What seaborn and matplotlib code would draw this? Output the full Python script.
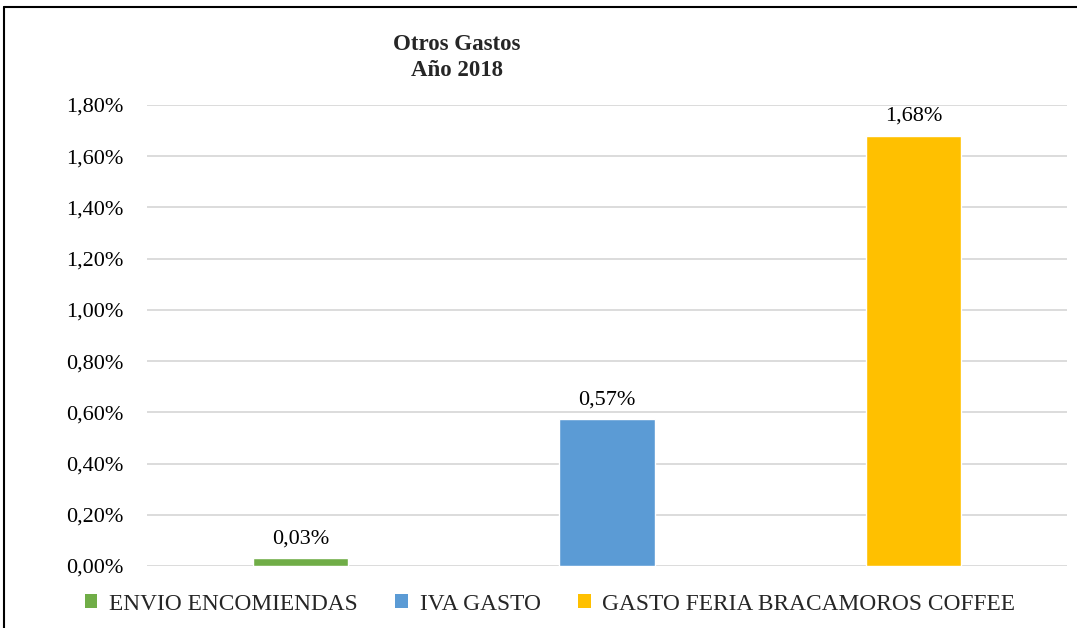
import matplotlib
matplotlib.use("Agg")
import matplotlib.pyplot as plt
import seaborn as sns
import pandas as pd
from matplotlib.patches import Patch
from matplotlib.lines import Line2D

categories = ["ENVIO ENCOMIENDAS", "IVA GASTO", "GASTO FERIA BRACAMOROS COFFEE"]
values = [0.0003, 0.00574, 0.0168]
colors = ["#70ad47", "#5b9bd5", "#ffc000"]
yticks = [0.0, 0.002, 0.004, 0.006, 0.008, 0.010, 0.012, 0.014, 0.016, 0.018]
title_lines = ["Otros Gastos", "Año 2018"]

sns.set_theme(style="white")
plt.rcParams["font.family"] = ["Liberation Serif", "DejaVu Serif"]

df = pd.DataFrame({"cat": categories, "val": values})

W, H = 1077, 628
fig = plt.figure(figsize=(W / 100, H / 100), dpi=100)
ax = fig.add_axes([147 / W, 1 - 566 / H, (1067 - 147) / W, (566 - 105) / H])

sns.barplot(data=df, x="cat", y="val", hue="cat", palette=colors, width=0.31,
            legend=False, ax=ax, saturation=1)

def pct(v):
    return f"{v*100:.2f}%".replace(".", ",")

ax.set_ylim(0, 0.018)
ax.set_yticks(yticks)
ax.set_yticklabels([pct(v) for v in yticks], fontsize=16, color="#000000")
ax.set_xticks([])
ax.set_xlabel("")
ax.set_ylabel("")
ax.grid(axis="y", color="#d9d9d9", linewidth=1.3)
ax.set_axisbelow(True)
for s in ax.spines.values():
    s.set_visible(False)
ax.tick_params(axis="y", length=0, pad=17)

for cont in ax.containers:
    ax.bar_label(cont, labels=[pct(b.get_height()) for b in cont], padding=7,
                 fontsize=16, color="#000000")

fig.text(457 / W, 1 - 44 / H, title_lines[0], ha="center", va="center",
         fontsize=16.5, fontweight="bold")
fig.text(457 / W, 1 - 70 / H, title_lines[1], ha="center", va="center",
         fontsize=16.5, fontweight="bold")

handles = [Patch(facecolor=c, edgecolor="none") for c in colors]
fig.legend(handles, categories, loc="center", bbox_to_anchor=(550 / W, 1 - 604 / H),
           ncol=3, frameon=False, fontsize=16.8, handlelength=0.55, handleheight=0.55,
           handletextpad=0.5, columnspacing=1.6)

fig.add_artist(Line2D([4 / W, 4 / W], [0, 1 - 7 / H], transform=fig.transFigure,
                      color="black", linewidth=1.5))
fig.add_artist(Line2D([4 / W, 1], [1 - 7 / H, 1 - 7 / H], transform=fig.transFigure,
                      color="black", linewidth=1.5))

fig.savefig("out.png", dpi=100)
